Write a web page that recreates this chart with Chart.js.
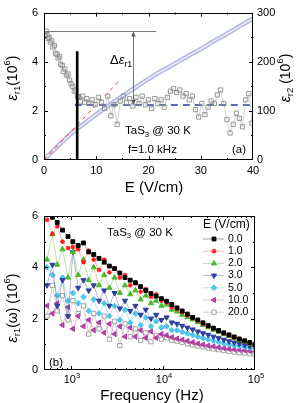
<!DOCTYPE html>
<html>
<head>
<meta charset="utf-8">
<script src="https://cdn.jsdelivr.net/npm/chart.js@4.4.0/dist/chart.umd.min.js"></script>
<style>
  html, body { margin: 0; padding: 0; background: #fff; }
  #top { position: absolute; left: 0; top: 0; width: 299px; height: 200px; }
  #bot { position: absolute; left: 0; top: 200px; width: 299px; height: 203px; }
</style>
</head>
<body>
<div id="top"><canvas id="chartA"></canvas></div>
<div id="bot"><canvas id="chartB"></canvas></div>
<script>
const FONT = '"Liberation Sans", Arial, Helvetica, sans-serif';

// ---- panel (a): eps_r1 vs E, f = 1 kHz ----
const fieldE = [0.2, 0.4, 0.6, 0.8, 1.0, 1.2, 1.5, 1.7, 2.0, 2.2, 2.5, 2.7, 3.0, 3.2, 3.5, 3.7, 4.0, 4.3, 4.6, 4.9,
  5.2, 5.5, 5.8, 6.1, 6.4, 6.7, 7.0, 7.4, 7.8, 8.2, 8.6, 9.2, 9.8, 10.4, 11.0, 11.6, 12.2, 12.8, 13.4, 14.0,
  14.6, 15.2, 15.8, 16.4, 17.0, 17.6, 18.2, 18.8, 19.4, 20.0, 20.6, 21.2, 21.8, 22.4, 23.0, 23.6, 24.2, 24.8,
  25.4, 26.0, 26.6, 27.2, 27.8, 28.4, 29.0, 29.6, 30.2, 30.8, 31.4, 32.0, 32.6, 33.2, 33.8, 34.4, 35.0, 35.6,
  36.2, 36.8, 37.4, 38.0, 38.6, 39.2, 39.8];
const epsR1 = [5.05, 5.25, 5.1, 4.95, 5.0, 4.8, 4.85, 4.6, 4.65, 4.35, 4.3, 4.15, 4.2, 3.9, 3.85, 3.6, 3.7, 3.45, 3.5, 3.25,
  3.1, 3.0, 2.8, 2.85, 2.6, 2.55, 2.4, 2.6, 2.35, 2.5, 2.3, 2.45, 2.25, 2.55, 2.35, 2.1, 2.6, 1.8, 2.25, 1.45,
  2.4, 2.6, 2.35, 2.5, 2.2, 2.55, 2.3, 2.6, 2.25, 2.45, 2.1, 2.5, 2.3, 2.45, 2.15, 2.55, 2.8, 2.9,
  2.75, 2.85, 2.6, 2.7, 2.45, 2.6, 2.05, 1.75, 2.3, 1.85, 2.15, 2.4, 2.3, 2.65, 2.85, 2.3, 1.65, 1.1,
  1.45, 1.9, 1.7, 1.35, 2.45, 2.7, 1.5];

// eps_r2 on the right axis
const fieldE2 = [0, 1, 2, 3, 4, 5, 6, 7, 8, 9, 10, 11, 12, 13, 14, 15, 16, 17, 18, 19, 20,
  21, 22, 23, 24, 25, 26, 27, 28, 29, 30, 31, 32, 33, 34, 35, 36, 37, 38, 39, 40];
const epsR2 = [0, 11, 21.5, 32, 42, 52, 60.5, 69, 77, 85, 93, 100.5, 108, 115.5, 123, 130, 137, 144, 151, 158, 165,
  171.5, 178, 184, 190, 196, 202, 208, 214, 220, 226, 232, 238.5, 245, 251, 257, 263, 269.5, 276, 282, 288];

// guide lines in (a)
const slopeE = [0, 14.5];
const slopeEps = [0, 3.25];
const thresholdE = 6.35, thresholdTop = 4.43;
const epsStart = 5.23, epsSat = 2.24;
const startLineEnd = 21.5, satLineStart = 5.9, deltaAt = 17;

// ---- panel (b): eps_r1 vs frequency ----
const freqHz = [550, 630, 710, 810, 930, 1050, 1200, 1370, 1560, 1770, 2020, 2300, 2620, 2980, 3400, 3870, 4410,
  5020, 5720, 6510, 7410, 8440, 9620, 10950, 12470, 14210, 16180, 18430, 20990, 23910, 27230, 31010,
  35320, 40230, 45810, 52180, 59430, 67690, 77090, 87800, 100000];
const fieldLabels = ['0.0', '1.0', '2.0', '3.0', '5.0', '10.0', '20.0'];
const epsE0 = [6.05, 5.95, 5.75, 5.45, 5.2, 5.0, 4.85, 4.95, 4.6, 4.5, 4.35, 4.2, 4.05, 3.95, 3.78, 3.6, 3.5,
  3.4, 3.25, 3.1, 2.98, 2.88, 2.78, 2.68, 2.55, 2.42, 2.3, 2.18, 2.05, 1.95, 1.84, 1.73,
  1.63, 1.54, 1.45, 1.37, 1.29, 1.21, 1.14, 1.07, 1.0];
const epsE1 = [5.85, 5.3, 5.6, 5.0, 4.75, 4.8, 4.7, 4.2, 4.65, 4.3, 3.9, 4.3, 3.8, 3.95, 3.6, 3.7, 3.3,
  3.4, 3.05, 3.15, 2.85, 2.95, 2.7, 2.65, 2.45, 2.38, 2.25, 2.13, 2.02, 1.92, 1.8, 1.7,
  1.6, 1.52, 1.43, 1.35, 1.27, 1.2, 1.12, 1.05, 0.98];
const epsE2 = [4.3, 5.3, 4.1, 4.7, 3.6, 4.6, 3.7, 4.3, 3.5, 4.0, 3.3, 3.7, 3.2, 3.6, 3.0, 3.3, 2.95,
  3.1, 2.75, 2.9, 2.6, 2.7, 2.5, 2.55, 2.35, 2.28, 2.15, 2.06, 1.97, 1.86, 1.75, 1.66,
  1.57, 1.48, 1.4, 1.32, 1.25, 1.17, 1.1, 1.03, 0.96];
const epsE3 = [3.3, 4.1, 2.5, 3.5, 2.1, 4.6, 3.2, 3.5, 3.1, 3.3, 2.7, 3.1, 2.5, 3.0, 2.4, 2.7, 2.3,
  2.5, 2.15, 2.35, 2.0, 2.15, 1.95, 2.05, 1.85, 1.8, 1.72, 1.65, 1.58, 1.5, 1.43, 1.37,
  1.3, 1.24, 1.18, 1.12, 1.07, 1.02, 0.97, 0.93, 0.9];
const epsE5 = [4.0, 3.7, 2.9, 3.6, 2.7, 3.0, 2.6, 2.85, 2.3, 2.75, 2.2, 2.6, 2.1, 2.5, 1.95, 2.35, 1.85,
  2.2, 1.75, 2.05, 1.7, 1.9, 1.65, 1.7, 1.55, 1.55, 1.48, 1.42, 1.36, 1.3, 1.24, 1.19,
  1.14, 1.09, 1.04, 1.0, 0.96, 0.93, 0.9, 0.87, 0.84];
const epsE10 = [2.5, 2.2, 2.6, 1.75, 2.45, 1.6, 2.1, 1.7, 1.95, 1.55, 1.85, 1.45, 1.8, 1.4, 1.7, 1.3, 1.65,
  1.3, 1.55, 1.25, 1.5, 1.25, 1.4, 1.35, 1.28, 1.22, 1.18, 1.13, 1.08, 1.03, 0.99, 0.95,
  0.92, 0.88, 0.85, 0.82, 0.8, 0.78, 0.76, 0.74, 0.72];
const epsE20 = [2.1, 3.3, 2.3, 2.9, 1.95, 2.7, 2.2, 2.5, 1.4, 2.2, 1.6, 2.1, 1.2, 1.9, 0.95, 1.8, 1.3,
  1.6, 1.15, 1.45, 1.1, 1.35, 1.2, 1.25, 1.15, 1.12, 1.08, 1.02, 0.98, 0.93, 0.9, 0.86,
  0.82, 0.79, 0.76, 0.73, 0.7, 0.68, 0.66, 0.63, 0.6];

const seriesB = [epsE0, epsE1, epsE2, epsE3, epsE5, epsE10, epsE20];
const looks = [
  { c: '#000000', line: 'rgba(0,0,0,0.45)', ps: 'rect', rot: 0, r: 2.7, bw: 1 },
  { c: '#ff1a1a', line: 'rgba(255,80,80,0.55)', ps: 'star', rot: 0, r: 2.4, bw: 1.1 },
  { c: '#4cb82e', line: 'rgba(90,190,70,0.55)', ps: 'triangle', rot: 0, r: 3, bw: 1 },
  { c: '#2c3f9e', line: 'rgba(60,80,170,0.5)', ps: 'triangle', rot: 180, r: 3, bw: 1 },
  { c: '#4ec6ea', line: 'rgba(90,200,235,0.55)', ps: 'rectRot', rot: 0, r: 2.8, bw: 1 },
  { c: '#b23fa6', line: 'rgba(180,80,170,0.5)', ps: 'triangle', rot: -90, r: 3, bw: 1 },
  { c: '#9a9a9a', line: 'rgba(150,150,150,0.55)', ps: 'rect', rot: 0, r: 3, bw: 0.9, fill: '#ffffff' }
];

const pts = (xs, ys) => xs.map((x, i) => ({ x: x, y: ys[i] }));

const drawRich = (ctx, parts, x, y, size, rot, align) => {
  ctx.save();
  ctx.translate(x, y);
  if (rot) ctx.rotate(rot);
  let w = 0;
  const items = parts.map(p => {
    const s = p.s ? size * 0.68 : size;
    const font = (p.i ? 'italic ' : '') + s + 'px ' + FONT;
    ctx.font = font;
    const pw = ctx.measureText(p.t).width;
    w += pw;
    return { t: p.t, font: font, w: pw, dy: p.s === 'sub' ? size * 0.32 : p.s === 'sup' ? -size * 0.38 : 0 };
  });
  let cx = align === 'left' ? 0 : align === 'right' ? -w : -w / 2;
  ctx.fillStyle = '#000';
  ctx.textAlign = 'left';
  ctx.textBaseline = 'middle';
  items.forEach(it => { ctx.font = it.font; ctx.fillText(it.t, cx, it.dy); cx += it.w; });
  ctx.restore();
};

const frame = (ctx, a) => {
  ctx.strokeStyle = '#000';
  ctx.lineWidth = 1;
  ctx.strokeRect(Math.round(a.left) + 0.5, Math.round(a.top) + 0.5,
    Math.round(a.right) - Math.round(a.left) - 1, Math.round(a.bottom) - Math.round(a.top) - 1);
};

const xTicks = (ctx, sc, a, vals, len) => {
  ctx.beginPath();
  vals.forEach(v => {
    const px = Math.round(sc.getPixelForValue(v)) + 0.5;
    ctx.moveTo(px, a.bottom); ctx.lineTo(px, a.bottom - len);
    ctx.moveTo(px, a.top); ctx.lineTo(px, a.top + len);
  });
  ctx.stroke();
};

const yTicks = (ctx, sc, a, vals, len, side) => {
  ctx.beginPath();
  vals.forEach(v => {
    const py = Math.round(sc.getPixelForValue(v)) + 0.5;
    if (side !== 'right') { ctx.moveTo(a.left, py); ctx.lineTo(a.left + len, py); }
    if (side !== 'left') { ctx.moveTo(a.right, py); ctx.lineTo(a.right - len, py); }
  });
  ctx.stroke();
};

const tickFont = { family: FONT, size: 11 };

// ---------- chart (a) ----------
const decorA = {
  id: 'decorA',
  afterDraw(chart) {
    const { ctx, chartArea: a, scales } = chart;
    const x = scales.x, y = scales.y, y2 = scales.y2;
    ctx.save();
    frame(ctx, a);
    xTicks(ctx, x, a, [10, 20, 30], 4);
    xTicks(ctx, x, a, [5, 15, 25, 35], 2);
    yTicks(ctx, y, a, [2, 4], 4, 'left');
    yTicks(ctx, y, a, [1, 3, 5], 2, 'left');
    yTicks(ctx, y2, a, [100, 200], 4, 'right');
    yTicks(ctx, y2, a, [50, 150, 250], 2, 'right');

    // delta arrow
    const ax = Math.round(x.getPixelForValue(deltaAt)) + 0.5;
    const ya = y.getPixelForValue(epsStart), yb = y.getPixelForValue(epsSat);
    ctx.strokeStyle = '#555'; ctx.fillStyle = '#555'; ctx.lineWidth = 0.8;
    ctx.beginPath(); ctx.moveTo(ax, ya + 3); ctx.lineTo(ax, yb - 3); ctx.stroke();
    ctx.beginPath(); ctx.moveTo(ax, ya); ctx.lineTo(ax - 2.2, ya + 5); ctx.lineTo(ax + 2.2, ya + 5); ctx.fill();
    ctx.beginPath(); ctx.moveTo(ax, yb); ctx.lineTo(ax - 2.2, yb - 5); ctx.lineTo(ax + 2.2, yb - 5); ctx.fill();

    drawRich(ctx, [{ t: 'Δ' }, { t: 'ε', i: 1 }, { t: 'r1', s: 'sub' }], 110, 60, 13, 0, 'left');
    drawRich(ctx, [{ t: 'TaS' }, { t: '3', s: 'sub' }, { t: ' @ 30 K' }], 125, 131, 11.5, 0, 'left');
    drawRich(ctx, [{ t: 'f=1.0 kHz' }], 128, 149.5, 11.5, 0, 'left');
    drawRich(ctx, [{ t: '(a)' }], 232, 150, 11.5, 0, 'left');

    drawRich(ctx, [{ t: 'E (V/cm)' }], 154, 188, 15, 0, 'center');
    drawRich(ctx, [{ t: 'ε', i: 1 }, { t: 'r1', s: 'sub' }, { t: '(10' }, { t: '6', s: 'sup' }, { t: ')' }],
      13, 78, 14, -Math.PI / 2, 'center');
    drawRich(ctx, [{ t: 'ε', i: 1 }, { t: 'r2', s: 'sub' }, { t: ' (10' }, { t: '6', s: 'sup' }, { t: ')' }],
      286, 78, 14, -Math.PI / 2, 'center');
    ctx.restore();
  }
};

new Chart(document.getElementById('chartA'), {
  type: 'scatter',
  data: {
    datasets: [
      {
        data: pts([thresholdE, thresholdE], [0, thresholdTop]),
        showLine: true, borderColor: '#000', borderWidth: 2.6, pointRadius: 0, yAxisID: 'y'
      },
      {
        data: pts(fieldE, epsR1),
        showLine: true, borderColor: 'rgba(150,150,150,0.7)', borderWidth: 0.6,
        pointStyle: 'rect', pointRadius: 3.0, pointBorderWidth: 0.9,
        pointBorderColor: '#8c8c8c', pointBackgroundColor: 'rgba(255,255,255,0)', yAxisID: 'y'
      },
      {
        data: pts([satLineStart, 40], [epsSat, epsSat]),
        showLine: true, borderColor: '#5a6cb4', borderWidth: 2, borderDash: [7, 5], pointRadius: 0, yAxisID: 'y'
      },
      {
        data: pts([0, startLineEnd], [epsStart, epsStart]),
        showLine: true, borderColor: '#555', borderWidth: 0.8, pointRadius: 0, yAxisID: 'y'
      },
      {
        data: pts(slopeE, slopeEps),
        showLine: true, borderColor: '#ff3030', borderWidth: 1, borderDash: [4, 4], pointRadius: 0, yAxisID: 'y'
      },
      {
        data: pts(fieldE2, epsR2),
        showLine: true, borderColor: '#e9eaf7', borderWidth: 1.6, pointRadius: 0, yAxisID: 'y2'
      },
      {
        data: pts(fieldE2, epsR2),
        showLine: true, borderColor: '#b4b8df', borderWidth: 4.6, pointRadius: 0, yAxisID: 'y2'
      }
    ]
  },
  options: {
    responsive: true, maintainAspectRatio: false, animation: false,
    layout: { padding: { top: 7, left: 0, right: 0, bottom: 0 } },
    plugins: { legend: { display: false }, tooltip: { enabled: false } },
    scales: {
      x: {
        type: 'linear', min: 0, max: 40,
        ticks: { stepSize: 10, font: tickFont, color: '#000', padding: 4, maxRotation: 0 },
        grid: { display: false, drawTicks: false }, border: { display: false },
        afterFit: s => { s.height = 40; }
      },
      y: {
        position: 'left', min: 0, max: 6,
        ticks: { stepSize: 2, font: tickFont, color: '#000', padding: 6 },
        grid: { display: false, drawTicks: false }, border: { display: false },
        afterFit: s => { s.width = 44; }
      },
      y2: {
        position: 'right', min: 0, max: 300,
        ticks: { stepSize: 100, font: tickFont, color: '#000', padding: 4 },
        grid: { display: false, drawTicks: false }, border: { display: false },
        afterFit: s => { s.width = 46; }
      }
    }
  },
  plugins: [decorA]
});

// ---------- chart (b) ----------
const decorB = {
  id: 'decorB',
  afterDraw(chart) {
    const { ctx, chartArea: a, scales } = chart;
    const x = scales.x, y = scales.y;
    ctx.save();
    frame(ctx, a);
    const minor = [];
    [100, 1000, 10000].forEach(d => { for (let k = 2; k <= 9; k++) if (d * k > 510) minor.push(d * k); });
    xTicks(ctx, x, a, [1000, 10000], 4);
    xTicks(ctx, x, a, minor, 2);
    yTicks(ctx, y, a, [2, 4], 4);
    yTicks(ctx, y, a, [1, 3, 5], 2);

    [[1000, '3'], [10000, '4'], [100000, '5']].forEach(([v, e]) => {
      const px = x.getPixelForValue(v);
      drawRich(ctx, [{ t: '10' }, { t: e, s: 'sup' }], px + 1, 180, 11, 0, 'center');
    });
    drawRich(ctx, [{ t: 'Frequency (Hz)' }], 152, 196, 15, 0, 'center');
    drawRich(ctx, [{ t: 'ε', i: 1 }, { t: 'r1', s: 'sub' }, { t: '(ω) (10' }, { t: '6', s: 'sup' }, { t: ')' }],
      13, 108, 14, -Math.PI / 2, 'center');
    drawRich(ctx, [{ t: 'TaS' }, { t: '3', s: 'sub' }, { t: ' @ 30 K' }], 107, 32.5, 11.5, 0, 'left');
    drawRich(ctx, [{ t: '(b)' }], 49, 163, 11.5, 0, 'left');

    // legend
    drawRich(ctx, [{ t: 'E (V/cm)' }], 203, 25, 12, 0, 'left');
    fieldLabels.forEach((lab, i) => {
      const ly = 39 + i * 12.2;
      const lk = looks[i];
      ctx.strokeStyle = lk.line; ctx.lineWidth = 0.8;
      ctx.beginPath(); ctx.moveTo(203, ly); ctx.lineTo(224, ly); ctx.stroke();
      ctx.fillStyle = lk.fill || lk.c; ctx.strokeStyle = lk.c; ctx.lineWidth = lk.bw;
      Chart.helpers.drawPoint(ctx, { pointStyle: lk.ps, rotation: lk.rot, radius: lk.r, borderWidth: lk.bw }, 214, ly);
      drawRich(ctx, [{ t: lab }], 228, ly, 10.5, 0, 'left');
    });
    ctx.restore();
  }
};

new Chart(document.getElementById('chartB'), {
  type: 'scatter',
  data: {
    datasets: seriesB.map((vals, i) => ({
      label: fieldLabels[i],
      data: pts(freqHz, vals),
      showLine: true,
      borderColor: looks[i].line, borderWidth: 0.8,
      pointStyle: looks[i].ps, rotation: looks[i].rot, pointRadius: looks[i].r,
      pointBorderWidth: looks[i].bw, pointBorderColor: looks[i].c,
      pointBackgroundColor: looks[i].fill || looks[i].c
    }))
  },
  options: {
    responsive: true, maintainAspectRatio: false, animation: false,
    layout: { padding: { top: 16, left: 0, right: 44, bottom: 0 } },
    plugins: { legend: { display: false }, tooltip: { enabled: false } },
    scales: {
      x: {
        type: 'logarithmic', min: 510, max: 100000,
        ticks: { display: false },
        grid: { display: false, drawTicks: false }, border: { display: false },
        afterFit: s => { s.height = 33; }
      },
      y: {
        position: 'left', min: 0, max: 6,
        ticks: { stepSize: 2, font: tickFont, color: '#000', padding: 6 },
        grid: { display: false, drawTicks: false }, border: { display: false },
        afterFit: s => { s.width = 44; }
      }
    }
  },
  plugins: [decorB]
});
</script>
</body>
</html>
